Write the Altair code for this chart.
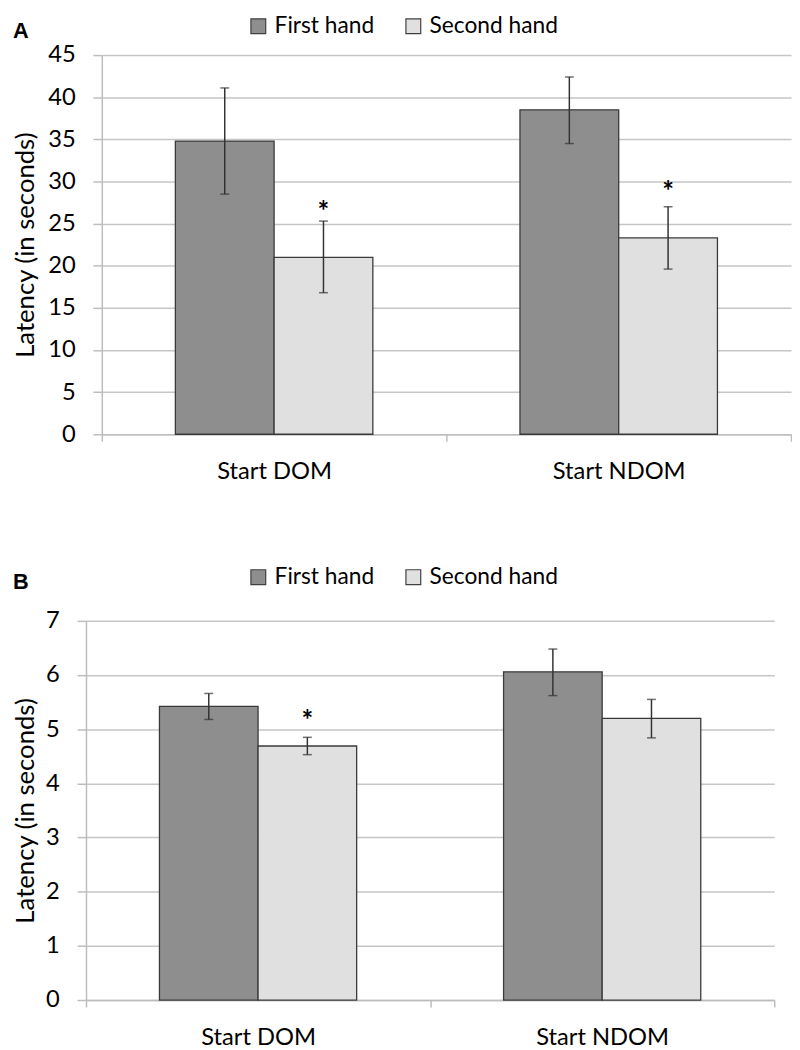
import altair as alt
import pandas as pd

categories = ["Start DOM", "Start NDOM"]
hands = ["First hand", "Second hand"]

# order: DOM-first, DOM-second, NDOM-first, NDOM-second
a_mean = [34.8, 21.0, 38.5, 23.3]
a_low = [28.5, 16.8, 34.5, 19.6]
a_high = [41.1, 25.3, 42.4, 27.0]
a_star = [None, 27.1, None, 29.4]
a_ticks = [0, 5, 10, 15, 20, 25, 30, 35, 40, 45]

b_mean = [5.42, 4.69, 6.06, 5.20]
b_low = [5.18, 4.53, 5.62, 4.84]
b_high = [5.66, 4.85, 6.48, 5.55]
b_star = [None, 5.25, None, None]
b_ticks = [0, 1, 2, 3, 4, 5, 6, 7]

colors = ["#8e8e8e", "#e0e0e0"]
FONT = "Lato"


def make_df(mean, low, high, star):
    rows = []
    i = 0
    for c in categories:
        for h in hands:
            rows.append({"cat": c, "hand": h, "mean": mean[i], "low": low[i],
                         "high": high[i], "star": star[i]})
            i += 1
    return pd.DataFrame(rows)


def panel(df, ticks, label, legend_y, width, height, shift, title_pad):
    ymax = ticks[-1]
    yscale = alt.Scale(domain=[0, ymax], nice=False, zero=True)
    if shift:
        xscale = alt.Scale(paddingInner=0, paddingOuter=0, range=[-shift, width])
    else:
        xscale = alt.Scale(paddingInner=0, paddingOuter=0)
    base = alt.Chart(df).encode(
        x=alt.X("cat:N", sort=categories, title=None, scale=xscale,
                axis=alt.Axis(labelAngle=0, labelFont=FONT, labelFontSize=24,
                              labelColor="#000000", labelPadding=19,
                              domainColor="#bdbdbd", domainWidth=1.5,
                              tickColor="#bdbdbd", tickWidth=1.5, tickSize=7,
                              tickBand="extent", grid=False)),
        xOffset=alt.XOffset("hand:N", sort=hands,
                            scale=alt.Scale(paddingOuter=0.745, paddingInner=0)),
    )
    bars = base.mark_bar(stroke="#3a3a3a", strokeWidth=1.3).encode(
        y=alt.Y("mean:Q", scale=yscale, title="Latency (in seconds)",
                axis=alt.Axis(values=ticks, format="d", offset=shift,
                              labelFont=FONT, labelFontSize=24,
                              labelColor="#000000", labelPadding=18,
                              titleFont=FONT, titleFontSize=26,
                              titleFontWeight="normal", titleColor="#000000",
                              titlePadding=title_pad,
                              domainColor="#bdbdbd", domainWidth=1.5,
                              tickColor="#bdbdbd", tickWidth=1.5, tickSize=9,
                              grid=True, gridColor="#c6c6c6", gridWidth=1.5)),
        color=alt.Color("hand:N", sort=hands,
                        scale=alt.Scale(domain=hands, range=colors),
                        legend=alt.Legend(title=label, titleOrient="left",
                                          titleFont="Liberation Sans",
                                          titleFontSize=22,
                                          titleFontWeight="bold",
                                          titleColor="#000000",
                                          titleAnchor="end",
                                          titleBaseline="alphabetic",
                                          titlePadding=221,
                                          orient="none",
                                          direction="horizontal",
                                          legendX=-90, legendY=legend_y,
                                          symbolType="square", symbolSize=225,
                                          symbolStrokeColor="#404040",
                                          symbolStrokeWidth=1.2,
                                          symbolOpacity=1,
                                          labelFont=FONT, labelFontSize=23,
                                          labelColor="#000000", labelOffset=5,
                                          columnPadding=28, padding=0)),
    )
    rules = base.mark_rule(color="#333333", strokeWidth=1.5).encode(
        y=alt.Y("low:Q", scale=yscale), y2="high:Q")
    cap_lo = base.mark_tick(color="#333333", thickness=1.5, size=9,
                            orient="horizontal").encode(y=alt.Y("low:Q", scale=yscale))
    cap_hi = base.mark_tick(color="#333333", thickness=1.5, size=9,
                            orient="horizontal").encode(y=alt.Y("high:Q", scale=yscale))
    stars = base.transform_filter("datum.star != null").mark_text(
        text="*", font=FONT, fontSize=28, fontWeight="bold", color="#000000",
        baseline="middle", dy=7).encode(y=alt.Y("star:Q", scale=yscale))
    return alt.layer(bars, rules, cap_lo, cap_hi, stars).properties(
        width=width, height=height)


pa = panel(make_df(a_mean, a_low, a_high, a_star), a_ticks, "A", -41,
           698, 384, 0, 9)
pb = panel(make_df(b_mean, b_low, b_high, b_star), b_ticks, "B", -56,
           681, 384, 16, 7)

chart = alt.concat(pa, pb, columns=1, spacing=83, bounds="full").resolve_scale(
    color="independent", x="independent", y="independent", xOffset="independent"
).resolve_legend(color="independent").properties(
    padding={"left": 5, "top": 0, "right": 0, "bottom": 0}, background="#ffffff"
).configure_view(stroke=None)

chart.save("out.html", embed_options={"renderer": "svg", "actions": False})
